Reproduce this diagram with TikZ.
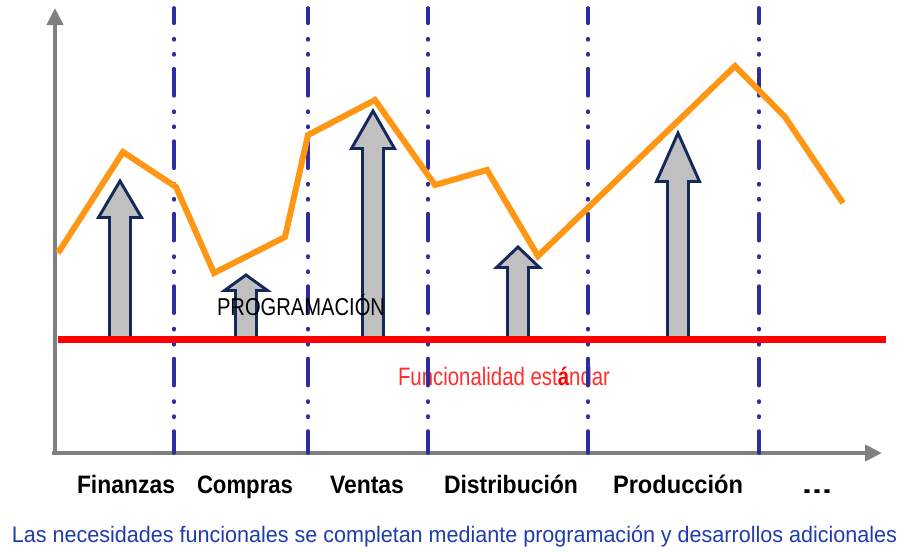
\documentclass[tikz,border=0pt]{standalone}
\usepackage{fontspec}
\usepackage{graphicx}
\setmainfont{Liberation Sans}
\usetikzlibrary{arrows.meta}
\definecolor{axisgray}{RGB}{128,128,128}
\definecolor{sepblue}{RGB}{45,45,160}
\definecolor{arrowfill}{RGB}{192,192,192}
\definecolor{arrowline}{RGB}{20,40,90}
\definecolor{trendorange}{RGB}{255,150,20}
\definecolor{bluetext}{RGB}{30,60,170}
\definecolor{lightred}{RGB}{255,45,45}
\newcommand\fitw[2]{\resizebox{#1}{\height}{#2}}
\newcommand\blockarr[4]{%
  \draw[blockarrow] (#1-10.5,#4) -- (#1-10.5,#3) -- (#1-21.5,#3) -- (#1,#2) -- (#1+21.5,#3) -- (#1+10.5,#3) -- (#1+10.5,#4) -- cycle;}
\begin{document}
\begin{tikzpicture}[x=0.75pt,y=-0.75pt,
  axis/.style={draw=axisgray, line width=3pt, -{Triangle[length=12.75pt,width=12pt]}},
  sep/.style={draw=sepblue, line width=2.8pt, line cap=round,
    dash pattern=on 20.25pt off 11.6pt on 0.8pt off 10.5pt on 0.8pt off 10.4pt, dash phase=8.8pt},
  blockarrow/.style={fill=arrowfill, draw=arrowline, line width=2.2pt, line join=miter},
  trend/.style={draw=trendorange, line width=4.5pt},
  baseline/.style={draw=red, line width=5.25pt},
  lbl/.style={inner sep=0pt, outer sep=0pt, anchor=base west},
  cat/.style={lbl, text=black, font=\fontsize{18.9}{22}\selectfont\bfseries}]
\useasboundingbox (0,0) rectangle (904,551);
% axes
\coordinate (origin) at (55,453);
\coordinate (ytop) at (55,8);
\coordinate (xleft) at (52,453);
\coordinate (xend) at (882,453);
\draw[axis] (origin) -- (ytop);
\draw[axis] (xleft) -- (xend);
% standard functionality label
\node[lbl, text=lightred] (std) at (398,385)
  {\fitw{159pt}{\fontsize{18.9}{22}\selectfont Funcionalidad est{\bfseries\color{red}á}ndar}};
% separators
\foreach \x/\n in {174/s1,308/s2,428/s3,588/s4,759/s5}{
  \coordinate (\n t) at (\x,8);
  \coordinate (\n b) at (\x,453);
  \draw[sep] (\n t) -- (\n b);
}
% block arrows
\blockarr{120}{181}{217.5}{339}
\blockarr{246}{275}{290.5}{339}
\blockarr{373}{111}{148.5}{339}
\blockarr{518}{247}{267.5}{339}
\blockarr{678}{133}{181.5}{339}
% standard line
\coordinate (r1) at (58,339);
\coordinate (r2) at (886,339);
\draw[baseline] (r1) -- (r2);
% trend
\draw[trend] (58,253) -- (123,152) -- (176,187) -- (214,273) -- (285,237) -- (308,135)
  -- (375,100) -- (435,185) -- (487,170) -- (538,256) -- (735,66) -- (785,117) -- (843,203);
% labels
\node[lbl, text=black] (prog) at (217,315)
  {\fitw{126pt}{\fontsize{18.3}{22}\selectfont PROGRAMACIÓN}};
\node[cat] (fin) at (77,493) {\fitw{73.5pt}{Finanzas}};
\node[cat] (com) at (197,493) {\fitw{72pt}{Compras}};
\node[cat] (ven) at (330,493) {\fitw{55.5pt}{Ventas}};
\node[cat] (dis) at (444,493) {\fitw{100.5pt}{Distribución}};
\node[cat] (pro) at (613,493) {\fitw{97.5pt}{Producción}};
\node[cat] (dots) at (802,493) {\fitw{22.5pt}{...}};
\node[lbl, text=bluetext] (foot) at (12,542)
  {\fitw{663.75pt}{\fontsize{16.8}{20}\selectfont Las necesidades funcionales se completan mediante programación y desarrollos adicionales}};
\end{tikzpicture}
\end{document}
